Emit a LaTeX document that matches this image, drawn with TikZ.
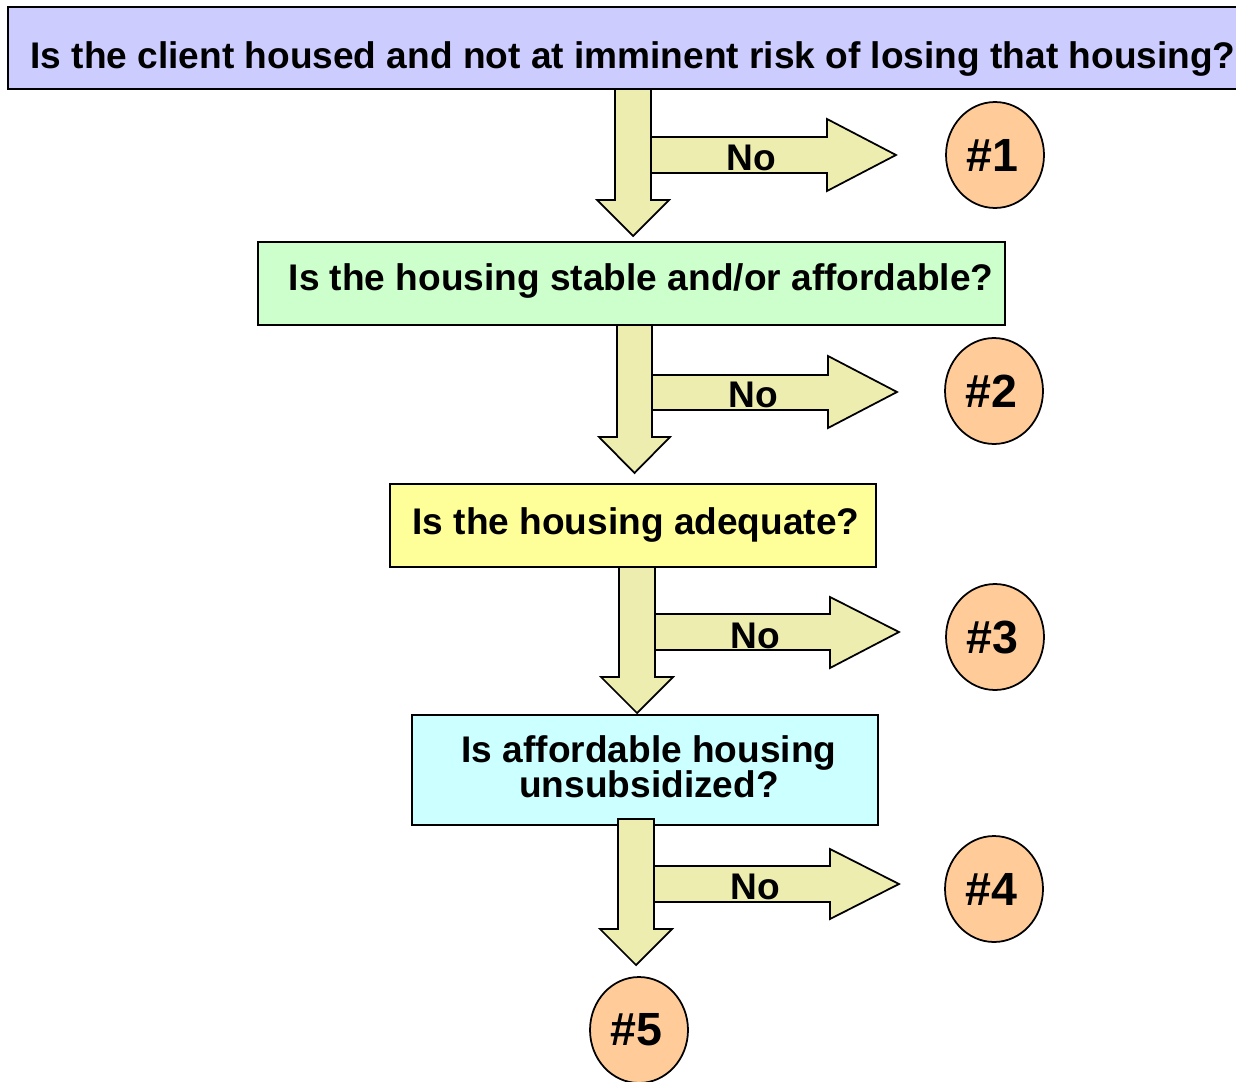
\documentclass[tikz,border=0pt]{standalone}
\usepackage{fontspec}
\setmainfont{Liberation Sans}
\usetikzlibrary{shapes.geometric}
\definecolor{qblue}{HTML}{CCCCFF}
\definecolor{qgreen}{HTML}{CCFFCC}
\definecolor{qyellow}{HTML}{FFFF99}
\definecolor{qcyan}{HTML}{CCFFFF}
\definecolor{outcome}{HTML}{FFCC99}
\definecolor{flow}{HTML}{EEEDB0}
\newcommand\outlabel[1]{\hspace*{-3.4pt}\raisebox{-2.8pt}{#1}}
\begin{document}
\begin{tikzpicture}[x=0.02cm,y=-0.02cm,
  question/.style={draw=black, line width=1pt, rectangle, inner sep=0pt},
  qtext/.style={font=\fontsize{21.1}{19.8}\selectfont\bfseries, inner sep=0pt, align=center},
  outcomenode/.style={draw=black, line width=1pt, fill=outcome, ellipse, inner sep=0pt,
    minimum width=1.96cm, minimum height=2.12cm, font=\fontsize{26.5}{28}\selectfont\bfseries},
  blockarrow/.style={draw=black, line width=1pt, fill=flow, line join=miter},
  nolabel/.style={font=\fontsize{21.1}{22}\selectfont\bfseries, inner sep=0pt}]
\useasboundingbox (0,0) rectangle (1236,1081);

% question boxes
\node[question, fill=qblue, minimum width=24.64cm, minimum height=1.64cm] (q1) at (624,48) {};
\node[qtext] (t1) at (633,59) {Is the client housed and not at imminent risk of losing that housing?};
\node[question, fill=qgreen, minimum width=14.94cm, minimum height=1.66cm] (q2) at (631.5,283.5) {};
\node[qtext] (t2) at (641,281) {Is the housing stable and/or affordable?};
\node[question, fill=qyellow, minimum width=9.72cm, minimum height=1.66cm] (q3) at (633,525.5) {};
\node[qtext] (t3) at (636,525) {Is the housing adequate?};
\node[question, fill=qcyan, minimum width=9.32cm, minimum height=2.2cm] (q4) at (645,770) {};
\node[qtext] (t4) at (649,767) {Is affordable housing\\unsubsidized?};

% outcomes
\node[outcomenode] (o1) at (995,155) {\outlabel{\#1}};
\node[outcomenode] (o2) at (994,391) {\outlabel{\#2}};
\node[outcomenode] (o3) at (995,637) {\outlabel{\#3}};
\node[outcomenode] (o4) at (994,889) {\outlabel{\#4}};
\node[outcomenode] (o5) at (639,1030) {\outlabel{\#5}};

% "No" branches
\draw[blockarrow] (651,137) -- (827,137) -- (827,119) -- (896,155) -- (827,191) -- (827,173) -- (651,173) -- cycle;
\draw[blockarrow] (652,375) -- (828,375) -- (828,356) -- (897,392) -- (828,428) -- (828,410) -- (652,410) -- cycle;
\draw[blockarrow] (655,614) -- (830,614) -- (830,597) -- (899,632) -- (830,668) -- (830,650) -- (655,650) -- cycle;
\draw[blockarrow] (654,866) -- (830,866) -- (830,849) -- (899,884) -- (830,919) -- (830,902) -- (654,902) -- cycle;
\node[nolabel] (n1) at (751,158) {No};
\node[nolabel] (n2) at (753,395) {No};
\node[nolabel] (n3) at (755,636) {No};
\node[nolabel] (n4) at (755,887) {No};

% "Yes" continuations
\draw[blockarrow] (615,89) -- (651,89) -- (651,200) -- (669,200) -- (633,236) -- (597,200) -- (615,200) -- cycle;
\draw[blockarrow] (617,325) -- (652,325) -- (652,437) -- (670,437) -- (634.5,473) -- (599,437) -- (617,437) -- cycle;
\draw[blockarrow] (619,567) -- (655,567) -- (655,677) -- (673,677) -- (637,713) -- (601,677) -- (619,677) -- cycle;
\draw[blockarrow] (618,819) -- (654,819) -- (654,929) -- (672,929) -- (636,965) -- (600,929) -- (618,929) -- cycle;
\end{tikzpicture}
\end{document}
